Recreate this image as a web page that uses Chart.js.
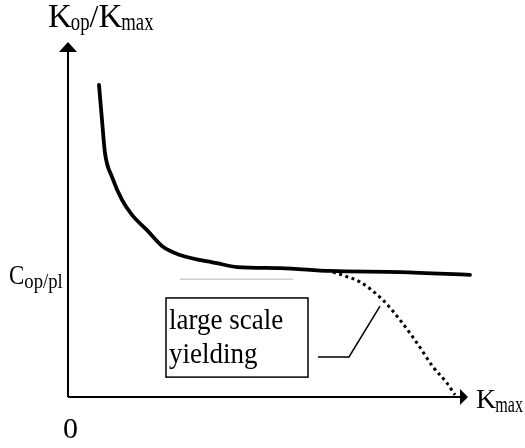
<!DOCTYPE html>
<html>
<head>
<meta charset="utf-8">
<script src="https://cdn.jsdelivr.net/npm/chart.js@4/dist/chart.umd.min.js"></script>
<style>
  html, body { margin: 0; padding: 0; background: #fff; }
  #wrap { width: 525px; height: 448px; position: relative; }
</style>
</head>
<body>
<div id="wrap"><canvas id="c" width="525" height="448"></canvas></div>
<script>
// K_max (arbitrary units) and the normalised opening level K_op/K_max
const smallScaleK = [7.75, 8.5, 9.25, 11, 13.5, 16, 19.75, 23.75, 28, 37.25, 42.25, 53, 65.5, 83, 100.5];
const smallScaleRatio = [0.879, 0.780, 0.687, 0.620, 0.555, 0.513, 0.470, 0.423, 0.400, 0.377, 0.366, 0.363, 0.355, 0.352, 0.344];

const largeScaleK = [66.25, 69.25, 73, 78.75, 83, 87.25, 91.25, 94.75, 96.75];
const largeScaleRatio = [0.352, 0.341, 0.324, 0.273, 0.217, 0.152, 0.085, 0.039, 0.006];

// plateau level C_op/pl
const plateauK = [28, 56.25];
const plateauRatio = [0.332, 0.332];

// leader from the annotation box to the dotted branch
const leaderK = [62.5, 70.25, 78];
const leaderRatio = [0.113, 0.113, 0.256];

const toPoints = (xs, ys) => xs.map((x, i) => ({ x: x, y: ys[i] }));

const SERIF = '"Liberation Serif", "DejaVu Serif", serif';

// draw a run of text pieces; subscripts are lowered, and each piece may be narrowed
function drawRuns(ctx, x, baseline, runs) {
  let cx = x;
  runs.forEach(r => {
    const sx = r.sx || 1;
    cx += r.kern || 0;
    ctx.font = r.size + 'px ' + SERIF;
    ctx.save();
    ctx.translate(cx, baseline + (r.dy || 0));
    ctx.scale(sx, 1);
    ctx.fillText(r.t, 0, 0);
    ctx.restore();
    cx += ctx.measureText(r.t).width * sx;
  });
}

const decorations = {
  id: 'decorations',
  afterDatasetsDraw(chart) {
    const { ctx, scales: { x, y } } = chart;
    const x0 = x.getPixelForValue(0), y0 = y.getPixelForValue(0);
    const xEnd = x.getPixelForValue(100), yTop = y.getPixelForValue(1);
    ctx.save();
    ctx.strokeStyle = '#000';
    ctx.fillStyle = '#000';
    ctx.lineWidth = 2;
    // axes
    ctx.beginPath();
    ctx.moveTo(x0, y0); ctx.lineTo(x0, yTop + 8);
    ctx.moveTo(x0, y0); ctx.lineTo(xEnd - 7, y0);
    ctx.stroke();
    // arrow heads
    ctx.beginPath();
    ctx.moveTo(x0, yTop); ctx.lineTo(x0 - 9, yTop + 10); ctx.lineTo(x0 + 9, yTop + 10); ctx.closePath();
    ctx.fill();
    ctx.beginPath();
    ctx.moveTo(xEnd, y0); ctx.lineTo(xEnd - 8, y0 - 8); ctx.lineTo(xEnd - 8, y0 + 8); ctx.closePath();
    ctx.fill();

    // annotation box
    const bx1 = x.getPixelForValue(24.5), bx2 = x.getPixelForValue(60);
    const by1 = y.getPixelForValue(0.279), by2 = y.getPixelForValue(0.056);
    ctx.lineWidth = 1.5;
    ctx.strokeRect(bx1, by1, bx2 - bx1, by2 - by1);

    ctx.textBaseline = 'alphabetic';
    ctx.textAlign = 'left';
    drawRuns(ctx, bx1 + 3, by1 + 31, [{ t: 'large scale', size: 30, sx: 0.9 }]);
    drawRuns(ctx, bx1 + 3, by1 + 65, [{ t: 'yielding', size: 30, sx: 0.9 }]);

    // axis titles and marks
    drawRuns(ctx, 48, 27, [
      { t: 'K', size: 33 }, { t: 'op', size: 26, dy: 3, sx: 0.72, kern: -1 },
      { t: '/', size: 32 }, { t: 'K', size: 33 },
      { t: 'max', size: 26, dy: 3, sx: 0.72, kern: -1 }
    ]);
    drawRuns(ctx, 9, 284, [
      { t: 'C', size: 27, sx: 0.85 }, { t: 'op/pl', size: 22, dy: 4, sx: 0.85 }
    ]);
    drawRuns(ctx, 476, 408, [
      { t: 'K', size: 28 }, { t: 'max', size: 23, dy: 4, sx: 0.7, kern: -1 }
    ]);
    drawRuns(ctx, 63, 438, [{ t: '0', size: 30 }]);
    ctx.restore();
  }
};

new Chart(document.getElementById('c'), {
  type: 'scatter',
  data: {
    datasets: [
      {
        label: 'plateau',
        data: toPoints(plateauK, plateauRatio),
        showLine: true, borderColor: '#b4b4b4', borderWidth: 1,
        pointRadius: 0, tension: 0
      },
      {
        label: 'small scale yielding',
        data: toPoints(smallScaleK, smallScaleRatio),
        showLine: true, borderColor: '#000', borderWidth: 3.8,
        pointRadius: 0, cubicInterpolationMode: 'monotone',
        borderCapStyle: 'round', borderJoinStyle: 'round'
      },
      {
        label: 'large scale yielding',
        data: toPoints(largeScaleK, largeScaleRatio),
        showLine: true, borderColor: '#000', borderWidth: 3,
        borderDash: [3, 3.5], pointRadius: 0, cubicInterpolationMode: 'monotone'
      },
      {
        label: 'leader',
        data: toPoints(leaderK, leaderRatio),
        showLine: true, borderColor: '#000', borderWidth: 1.5,
        pointRadius: 0, tension: 0
      }
    ]
  },
  options: {
    responsive: false,
    animation: false,
    devicePixelRatio: 1,
    layout: { padding: { left: 68, right: 57, top: 42, bottom: 51 } },
    scales: {
      x: { type: 'linear', min: 0, max: 100, display: false },
      y: { type: 'linear', min: 0, max: 1, display: false }
    },
    plugins: { legend: { display: false }, tooltip: { enabled: false } },
    elements: { line: { fill: false } },
    clip: false
  },
  plugins: [decorations]
});
</script>
</body>
</html>
